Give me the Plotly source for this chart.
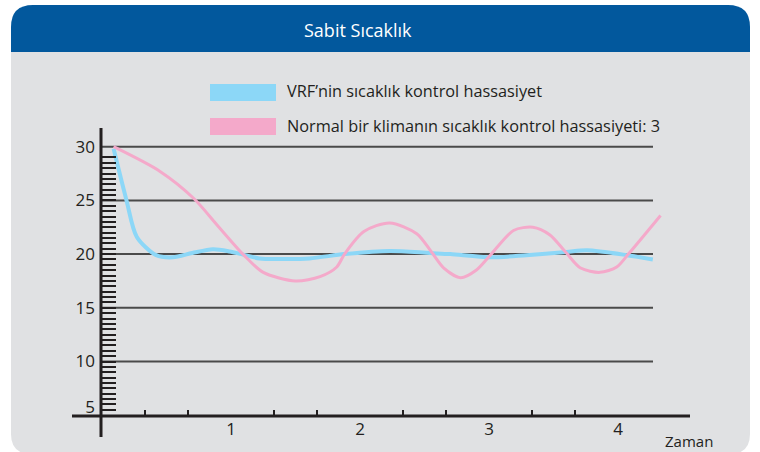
import plotly.graph_objects as go

W, H = 760, 452

# ---- data ----
title_text = "Sabit Sıcaklık"
series_names = ["VRF\u2019nin sıcaklık kontrol hassasiyet",
                "Normal bir klimanın sıcaklık kontrol hassasiyeti: 3"]
vrf_t = [0.09, 0.19, 0.27, 0.42, 0.55, 0.70, 0.86, 0.99, 1.08, 1.22, 1.40, 1.61,
         1.88, 2.23, 2.54, 2.70, 3.01, 3.29, 3.60, 3.76, 4.07, 4.27]
vrf_v = [29.8, 25.0, 21.6, 19.9, 19.7, 20.1, 20.45, 20.25, 20.0, 19.6, 19.55, 19.6,
         20.0, 20.3, 20.1, 20.0, 19.7, 19.9, 20.2, 20.35, 19.9, 19.5]
norm_t = [0.09, 0.45, 0.71, 0.90, 1.10, 1.25, 1.50, 1.69, 1.82, 1.88, 2.03,
          2.23, 2.44, 2.56, 2.65, 2.78, 2.90, 3.01, 3.19, 3.34, 3.47, 3.60, 3.71,
          3.86, 3.99, 4.08, 4.33]
norm_v = [30.0, 27.7, 25.2, 22.6, 19.9, 18.3, 17.5, 17.9, 18.8, 20.0, 22.1,
          22.9, 21.9, 20.1, 18.7, 17.8, 18.5, 19.9, 22.2, 22.5, 21.8, 20.1, 18.7,
          18.3, 18.8, 20.0, 23.6]
y_tick_vals = [5, 10, 15, 20, 25, 30]
y_tick_text = ["5", "10", "15", "20", "25", "30"]
grid_levels = [10, 15, 20, 25, 30]
x_tick_vals = [1, 2, 3, 4]
x_tick_text = ["1", "2", "3", "4"]
x_title = "Zaman"

# ---- colours / fonts ----
BLUE_HDR = "#02589D"
PANEL = "#E0E1E3"
C_VRF = "#8CD7F7"
C_NORM = "#F4A9CA"
DARK = "#231F20"
GRID = "#4A4A4A"
FONT = "Open Sans"

# pixel <-> data mapping
X0PX, PXPT = 102.0, 129.0        # pixel of t=0, pixels per time unit
Y0PX, PXPV = 146.7, 10.74        # pixel of v=30, pixels per value unit
def t_of(px): return (px - X0PX) / PXPT
def v_of(py): return 30 - (py - Y0PX) / PXPV
def fx(px): return px / W
def fy(py): return 1 - py / H
def P(x, y): return f"{fx(x):.5f},{fy(y):.5f}"

fig = go.Figure()
fig.add_trace(go.Scatter(x=vrf_t, y=vrf_v, mode="lines", name=series_names[0],
                         line=dict(color=C_VRF, width=4, shape="spline", smoothing=0.8),
                         showlegend=False))
fig.add_trace(go.Scatter(x=norm_t, y=norm_v, mode="lines", name=series_names[1],
                         line=dict(color=C_NORM, width=3, shape="spline", smoothing=0.8),
                         showlegend=False))

shapes = []
# grey panel with rounded bottom corners
shapes.append(dict(type="path", xref="paper", yref="paper", layer="below",
                   path=f"M{P(11,52)} L{P(11,434)} Q{P(11,454)} {P(31,454)} L{P(730,454)} "
                        f"Q{P(750,454)} {P(750,434)} L{P(750,52)} Z",
                   fillcolor=PANEL, line=dict(width=0)))
# blue header with rounded top corners
shapes.append(dict(type="path", xref="paper", yref="paper", layer="below",
                   path=f"M{P(11,52)} L{P(11,27)} Q{P(11,5)} {P(33,5)} L{P(728,5)} "
                        f"Q{P(750,5)} {P(750,27)} L{P(750,52)} Z",
                   fillcolor=BLUE_HDR, line=dict(width=0)))
# gridlines
for g in grid_levels:
    shapes.append(dict(type="line", xref="x", yref="y", layer="below",
                       x0=t_of(101), x1=t_of(653), y0=g, y1=g,
                       line=dict(color=GRID, width=2)))
# axis lines
shapes.append(dict(type="line", xref="x", yref="y", layer="above",
                   x0=t_of(101), x1=t_of(101), y0=v_of(128), y1=v_of(437),
                   line=dict(color=DARK, width=3)))
shapes.append(dict(type="line", xref="x", yref="y", layer="above",
                   x0=t_of(72), x1=t_of(690), y0=v_of(416), y1=v_of(416),
                   line=dict(color=DARK, width=3)))
# legend swatches
shapes.append(dict(type="rect", xref="paper", yref="paper", layer="above",
                   x0=fx(210), x1=fx(276), y0=fy(84), y1=fy(101),
                   fillcolor=C_VRF, line=dict(width=0)))
shapes.append(dict(type="rect", xref="paper", yref="paper", layer="above",
                   x0=fx(210), x1=fx(276), y0=fy(118), y1=fy(135),
                   fillcolor=C_NORM, line=dict(width=0)))

annotations = [
    dict(text=title_text, x=fx(358), y=fy(30), xref="paper", yref="paper",
         showarrow=False, xanchor="center", yanchor="middle",
         font=dict(family=FONT, size=18, color="white")),
    dict(text=series_names[0], x=fx(285), y=fy(90.5), xref="paper", yref="paper",
         showarrow=False, xanchor="left", yanchor="middle",
         font=dict(family=FONT, size=16.3, color=DARK)),
    dict(text=series_names[1], x=fx(285), y=fy(126), xref="paper", yref="paper",
         showarrow=False, xanchor="left", yanchor="middle",
         font=dict(family=FONT, size=16.3, color=DARK)),
    dict(text=x_title, x=fx(689), y=fy(441), xref="paper", yref="paper",
         showarrow=False, xanchor="center", yanchor="middle",
         font=dict(family=FONT, size=15, color=DARK)),
]

# minor tick positions (every 0.5 on y, every 1/3 on x except integers)
y_minor = [k / 2 for k in range(11, 59)]
x_minor = [k / 3 for k in range(1, 12) if k % 3 != 0]

# "5" label is drawn slightly raised above the x axis
y_label_pos = [v_of(407.5) if v == 5 else v for v in y_tick_vals]

fig.update_layout(
    width=W, height=H, margin=dict(l=0, r=0, t=0, b=0),
    paper_bgcolor="white", plot_bgcolor="rgba(0,0,0,0)",
    shapes=shapes, annotations=annotations,
    xaxis=dict(range=[t_of(0), t_of(W)], domain=[0, 1], anchor="free",
               position=fy(416), showgrid=False, zeroline=False, showline=False,
               tickmode="array", tickvals=x_tick_vals, ticktext=x_tick_text,
               ticks="", ticklabelstandoff=1,
               tickfont=dict(family=FONT, size=17, color=DARK),
               minor=dict(tickmode="array", tickvals=x_minor, ticks="inside",
                          ticklen=6, tickwidth=1.5, tickcolor=DARK, showgrid=False)),
    yaxis=dict(range=[v_of(H), v_of(0)], domain=[0, 1], anchor="free",
               position=fx(101), showgrid=False, zeroline=False, showline=False,
               tickmode="array", tickvals=y_label_pos, ticktext=y_tick_text,
               ticks="", ticklabelstandoff=6,
               tickfont=dict(family=FONT, size=17, color=DARK),
               minor=dict(tickmode="array", tickvals=y_minor, ticks="inside",
                          ticklen=14, tickwidth=1.7, tickcolor=DARK, showgrid=False)),
)

fig.write_html("out.html", config={"displayModeBar": False},
               post_script="document.body.style.margin='0';")
